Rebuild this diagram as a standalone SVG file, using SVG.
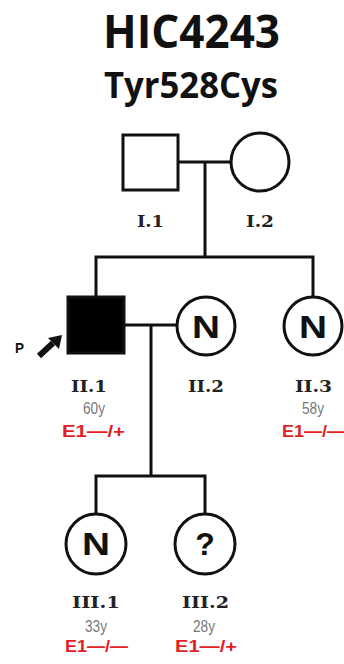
<svg xmlns="http://www.w3.org/2000/svg" width="344" height="664" viewBox="0 0 344 664">
<style>
.ln{fill:none;stroke:#111;stroke-width:3}
.sym{fill:#fff;stroke:#111;stroke-width:3}
.aff{fill:#000;stroke:#111;stroke-width:3}
.t1{font-family:"Open Sans","Liberation Sans",sans-serif;font-weight:bold;fill:#111}
.id{font-family:"DejaVu Serif","Liberation Serif",serif;font-weight:bold;font-size:16.5px;fill:#222}
.age{font-family:"Liberation Sans",Arial,sans-serif;font-size:17px;fill:#777}
.gen{font-family:"Liberation Sans",Arial,sans-serif;font-weight:bold;font-size:17px;fill:#e31e24}
.mk{font-family:"Liberation Sans",Arial,sans-serif;font-weight:bold;font-size:32px;fill:#111}
</style>
<rect width="344" height="664" fill="#fff"/>
<g id="title">
<text class="t1" x="103" y="48" font-size="46" textLength="177" lengthAdjust="spacingAndGlyphs">HIC4243</text>
<text class="t1" x="104" y="98" font-size="35" textLength="174" lengthAdjust="spacingAndGlyphs">Tyr528Cys</text>
</g>
<g id="connectors">
<line class="ln" x1="178" y1="162" x2="230" y2="162"/>
<line class="ln" x1="205" y1="162" x2="205" y2="257"/>
<polyline class="ln" points="96,297 96,257 313,257 313,296"/>
<line class="ln" x1="124" y1="325" x2="177" y2="325"/>
<line class="ln" x1="151" y1="325" x2="151" y2="476"/>
<polyline class="ln" points="96,513 96,476 205,476 205,513"/>
</g>
<g id="I1">
<rect class="sym" x="123" y="135" width="55" height="55"/>
<text class="id" x="137" y="227" textLength="27" lengthAdjust="spacingAndGlyphs">I.1</text>
</g>
<g id="I2">
<circle class="sym" cx="260" cy="162" r="29"/>
<text class="id" x="246" y="227" textLength="28" lengthAdjust="spacingAndGlyphs">I.2</text>
</g>
<g id="II1">
<rect class="aff" x="68" y="297" width="56" height="56"/>
<text class="id" x="71" y="392" textLength="36" lengthAdjust="spacingAndGlyphs">II.1</text>
<text class="age" x="83" y="414" textLength="22" lengthAdjust="spacingAndGlyphs">60y</text>
<text class="gen" x="62" y="437" textLength="63" lengthAdjust="spacingAndGlyphs">E1—/+</text>
<text x="15" y="353" font-family="Liberation Sans,Arial,sans-serif" font-weight="bold" font-size="14" fill="#111" textLength="9" lengthAdjust="spacingAndGlyphs">P</text>
<path d="M39,356 L53,343" stroke="#111" stroke-width="6" fill="none"/>
<polygon points="62,335 48,338 59,349" fill="#111"/>
</g>
<g id="II2">
<circle class="sym" cx="206" cy="326" r="29"/>
<text class="mk" x="192" y="338" textLength="28" lengthAdjust="spacingAndGlyphs">N</text>
<text class="id" x="188" y="392" textLength="36" lengthAdjust="spacingAndGlyphs">II.2</text>
</g>
<g id="II3">
<circle class="sym" cx="313" cy="326" r="29"/>
<text class="mk" x="299" y="338" textLength="28" lengthAdjust="spacingAndGlyphs">N</text>
<text class="id" x="295" y="392" textLength="37" lengthAdjust="spacingAndGlyphs">II.3</text>
<text class="age" x="302" y="414" textLength="22" lengthAdjust="spacingAndGlyphs">58y</text>
<text class="gen" x="282" y="437" textLength="63" lengthAdjust="spacingAndGlyphs">E1—/—</text>
</g>
<g id="III1">
<circle class="sym" cx="96" cy="544" r="30"/>
<text class="mk" x="82" y="555" textLength="28" lengthAdjust="spacingAndGlyphs">N</text>
<text class="id" x="72" y="608" textLength="48" lengthAdjust="spacingAndGlyphs">III.1</text>
<text class="age" x="85" y="632" textLength="22" lengthAdjust="spacingAndGlyphs">33y</text>
<text class="gen" x="65" y="652" textLength="63" lengthAdjust="spacingAndGlyphs">E1—/—</text>
</g>
<g id="III2">
<circle class="sym" cx="205" cy="544" r="30"/>
<text class="mk" x="205" y="555" text-anchor="middle">?</text>
<text class="id" x="182" y="608" textLength="47" lengthAdjust="spacingAndGlyphs">III.2</text>
<text class="age" x="193" y="632" textLength="22" lengthAdjust="spacingAndGlyphs">28y</text>
<text class="gen" x="175" y="652" textLength="62" lengthAdjust="spacingAndGlyphs">E1—/+</text>
</g>
</svg>
